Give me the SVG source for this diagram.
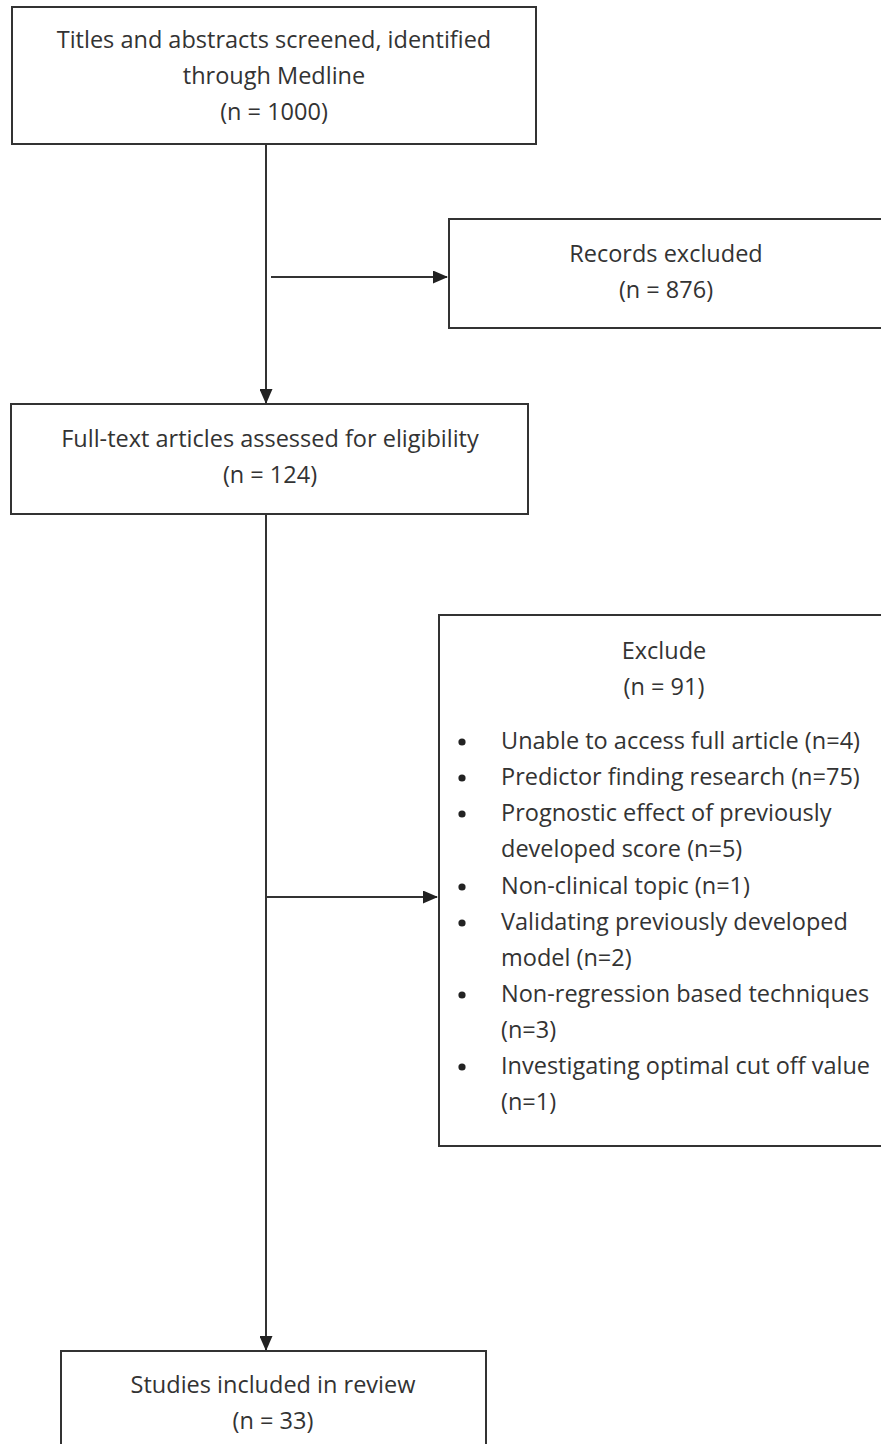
<svg xmlns="http://www.w3.org/2000/svg" width="881" height="1444" viewBox="0 0 881 1444">
<style>
.box{fill:#fff;stroke:#333;stroke-width:2}
.t{font-family:"Open Sans","Noto Sans","Liberation Sans",sans-serif;font-size:23.5px;fill:#333}
.c{text-anchor:middle}
.ln{stroke:#333;stroke-width:2;fill:none}
.dot{fill:#222}
</style>
<defs>
<marker id="ah" markerWidth="15" markerHeight="13" refX="14" refY="6.5" orient="auto" markerUnits="userSpaceOnUse">
<path d="M0,0 L15,6.5 L0,13 Z" fill="#222"/>
</marker>
</defs>
<rect width="881" height="1444" fill="#fff"/>
<g id="connectors">
<line class="ln" x1="266" y1="144" x2="266" y2="403" marker-end="url(#ah)"/>
<line class="ln" x1="271" y1="277" x2="447" y2="277" marker-end="url(#ah)"/>
<line class="ln" x1="266" y1="515" x2="266" y2="1350" marker-end="url(#ah)"/>
<line class="ln" x1="266" y1="897" x2="437" y2="897" marker-end="url(#ah)"/>
</g>
<g id="node-screened">
<rect class="box" x="12" y="7" width="524" height="137"/>
<text class="t c" x="274" y="48">Titles and abstracts screened, identified</text>
<text class="t c" x="274" y="84">through Medline</text>
<text class="t c" x="274" y="120">(n = 1000)</text>
</g>
<g id="node-records-excluded">
<rect class="box" x="449" y="219" width="440" height="109"/>
<text class="t c" x="666" y="262">Records excluded</text>
<text class="t c" x="666" y="298">(n = 876)</text>
</g>
<g id="node-fulltext">
<rect class="box" x="11" y="404" width="517" height="110"/>
<text class="t c" x="270" y="447">Full-text articles assessed for eligibility</text>
<text class="t c" x="270" y="483">(n = 124)</text>
</g>
<g id="node-exclude">
<rect class="box" x="439" y="615" width="450" height="531"/>
<text class="t c" x="664" y="659">Exclude</text>
<text class="t c" x="664" y="695">(n = 91)</text>
<circle class="dot" cx="462" cy="742" r="3.6"/>
<circle class="dot" cx="462" cy="778" r="3.6"/>
<circle class="dot" cx="462" cy="814" r="3.6"/>
<circle class="dot" cx="462" cy="887" r="3.6"/>
<circle class="dot" cx="462" cy="923" r="3.6"/>
<circle class="dot" cx="462" cy="995" r="3.6"/>
<circle class="dot" cx="462" cy="1067" r="3.6"/>
<text class="t" x="501" y="749">Unable to access full article (n=4)</text>
<text class="t" x="501" y="785">Predictor finding research (n=75)</text>
<text class="t" x="501" y="821">Prognostic effect of previously</text>
<text class="t" x="501" y="857">developed score (n=5)</text>
<text class="t" x="501" y="894">Non-clinical topic (n=1)</text>
<text class="t" x="501" y="930">Validating previously developed</text>
<text class="t" x="501" y="966">model (n=2)</text>
<text class="t" x="501" y="1002">Non-regression based techniques</text>
<text class="t" x="501" y="1038">(n=3)</text>
<text class="t" x="501" y="1074">Investigating optimal cut off value</text>
<text class="t" x="501" y="1110">(n=1)</text>
</g>
<g id="node-included">
<rect class="box" x="61" y="1351" width="425" height="120"/>
<text class="t c" x="273" y="1393">Studies included in review</text>
<text class="t c" x="273" y="1429">(n = 33)</text>
</g>
</svg>
